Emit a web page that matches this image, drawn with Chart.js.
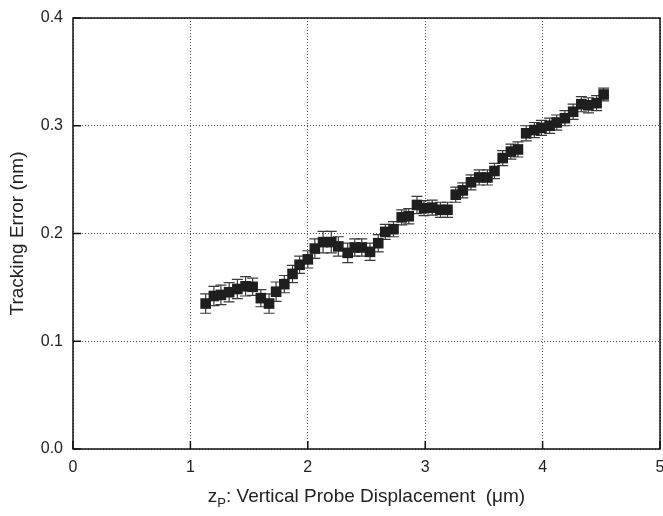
<!DOCTYPE html>
<html>
<head>
<meta charset="utf-8">
<script src="https://cdn.jsdelivr.net/npm/chart.js@4.4.1/dist/chart.umd.min.js"></script>
<style>
  body { margin: 0; background: #fff; }
  #wrap { width: 663px; height: 516px; }
</style>
</head>
<body>
<div id="wrap"><canvas id="canvas" width="663" height="516"></canvas></div>
<script>
// probe displacement (um)
const xValues = [1.13, 1.20, 1.26, 1.33, 1.40, 1.47, 1.53, 1.60, 1.67, 1.73,
  1.80, 1.87, 1.93, 2.00, 2.06, 2.13, 2.20, 2.26, 2.34, 2.40,
  2.46, 2.53, 2.60, 2.66, 2.73, 2.80, 2.86, 2.93, 2.99, 3.06,
  3.13, 3.19, 3.26, 3.32, 3.39, 3.46, 3.53, 3.59, 3.66, 3.73,
  3.79, 3.86, 3.93, 3.99, 4.06, 4.12, 4.19, 4.26, 4.33, 4.39,
  4.46, 4.52];
// tracking error (nm)
const trackingError = [0.135, 0.142, 0.143, 0.1455, 0.1485, 0.151, 0.1505, 0.140, 0.135, 0.146,
  0.153, 0.1625, 0.171, 0.176, 0.186, 0.192, 0.192, 0.188, 0.182, 0.187,
  0.187, 0.183, 0.191, 0.2015, 0.204, 0.215, 0.216, 0.2265, 0.2235, 0.224,
  0.222, 0.222, 0.236, 0.240, 0.2475, 0.252, 0.252, 0.258, 0.270, 0.276,
  0.278, 0.293, 0.296, 0.298, 0.300, 0.303, 0.307, 0.313, 0.320, 0.319,
  0.321, 0.329];
const errorBars = [0.009, 0.009, 0.009, 0.009, 0.009, 0.009, 0.008, 0.008, 0.009, 0.009,
  0.008, 0.008, 0.008, 0.008, 0.009, 0.010, 0.010, 0.009, 0.009, 0.008,
  0.008, 0.008, 0.008, 0.007, 0.007, 0.007, 0.007, 0.008, 0.007, 0.007,
  0.007, 0.007, 0.007, 0.007, 0.007, 0.007, 0.007, 0.007, 0.007, 0.007,
  0.007, 0.007, 0.007, 0.007, 0.007, 0.007, 0.007, 0.007, 0.007, 0.007,
  0.007, 0.006];
const xTicks = [0, 1, 2, 3, 4, 5];
const yTicks = [0.0, 0.1, 0.2, 0.3, 0.4];

const textColor = '#222';
const fontName = '"Liberation Sans", Arial, sans-serif';

const errorBarPlugin = {
  id: 'errorBars',
  beforeDatasetsDraw(chart) {
    const ctx = chart.ctx;
    const x = chart.scales.x, y = chart.scales.y;
    ctx.save();
    ctx.strokeStyle = '#3a3a3a';
    ctx.lineWidth = 1.2;
    xValues.forEach((xv, i) => {
      const px = x.getPixelForValue(xv);
      const top = y.getPixelForValue(trackingError[i] + errorBars[i]);
      const bot = y.getPixelForValue(trackingError[i] - errorBars[i]);
      ctx.beginPath();
      ctx.moveTo(px, top); ctx.lineTo(px, bot);
      ctx.moveTo(px - 5.5, top); ctx.lineTo(px + 5.5, top);
      ctx.moveTo(px - 5.5, bot); ctx.lineTo(px + 5.5, bot);
      ctx.stroke();
    });
    ctx.restore();
  }
};

const framePlugin = {
  id: 'frame',
  afterDraw(chart) {
    const ctx = chart.ctx;
    const a = chart.chartArea;
    const x = chart.scales.x, y = chart.scales.y;
    ctx.save();
    ctx.strokeStyle = '#111';
    ctx.lineWidth = 1.5;
    ctx.strokeRect(a.left, a.top, a.right - a.left, a.bottom - a.top);
    // inner tick marks
    ctx.beginPath();
    yTicks.forEach(v => {
      const py = y.getPixelForValue(v);
      ctx.moveTo(a.left, py); ctx.lineTo(a.left + 8, py);
    });
    xTicks.forEach(v => {
      const px = x.getPixelForValue(v);
      ctx.moveTo(px, a.bottom); ctx.lineTo(px, a.bottom - 8);
    });
    ctx.stroke();

    // axis titles
    ctx.fillStyle = textColor;
    ctx.textBaseline = 'middle';
    ctx.textAlign = 'center';
    ctx.save();
    ctx.translate(18, (a.top + a.bottom) / 2);
    ctx.rotate(-Math.PI / 2);
    ctx.font = '19px ' + fontName;
    ctx.fillText('Tracking Error (nm)', 0, 0);
    ctx.restore();

    const parts = [
      { t: 'z', size: 19, dy: 0 },
      { t: 'P', size: 13, dy: 6 },
      { t: ': Vertical Probe Displacement  (\u03bcm)', size: 19, dy: 0 }
    ];
    let total = 0;
    parts.forEach(p => { ctx.font = p.size + 'px ' + fontName; p.w = ctx.measureText(p.t).width; total += p.w; });
    let cx = (a.left + a.right) / 2 - total / 2;
    ctx.textAlign = 'left';
    parts.forEach(p => {
      ctx.font = p.size + 'px ' + fontName;
      ctx.fillText(p.t, cx, 497 + p.dy);
      cx += p.w;
    });
    ctx.restore();
  }
};

const points = xValues.map((v, i) => ({ x: v, y: trackingError[i] }));

const config = {
  type: 'scatter',
  data: {
    datasets: [{
      label: 'Tracking Error',
      data: points,
      pointStyle: 'rect',
      pointRadius: 7.5,
      backgroundColor: '#1e1e1e',
      borderColor: '#1e1e1e',
      borderWidth: 0
    }]
  },
  options: {
    responsive: false,
    animation: false,
    layout: { autoPadding: false, padding: { top: 18, right: 3, left: 0, bottom: 0 } },
    plugins: { legend: { display: false }, tooltip: { enabled: false } },
    scales: {
      x: {
        type: 'linear',
        min: 0, max: 5,
        afterBuildTicks: s => { s.ticks = xTicks.map(v => ({ value: v })); },
        afterFit: s => { s.height = 67; s.paddingRight = 0; s.paddingLeft = 0; },
        grid: { color: '#555', lineWidth: 1, drawTicks: false },
        border: { display: false, dash: [1, 2] },
        ticks: {
          padding: 9,
          color: textColor,
          font: { family: fontName, size: 16 },
          maxRotation: 0,
          callback: v => String(v)
        }
      },
      y: {
        type: 'linear',
        min: 0, max: 0.4,
        afterBuildTicks: s => { s.ticks = yTicks.map(v => ({ value: v })); },
        afterFit: s => { s.width = 73; s.paddingTop = 0; s.paddingBottom = 0; },
        grid: { color: '#555', lineWidth: 1, drawTicks: false },
        border: { display: false, dash: [1, 2] },
        ticks: {
          padding: 10,
          color: textColor,
          font: { family: fontName, size: 16 },
          callback: v => v.toFixed(1)
        }
      }
    }
  },
  plugins: [errorBarPlugin, framePlugin]
};

const chart = new Chart(document.getElementById('canvas'), config);
</script>
</body>
</html>
